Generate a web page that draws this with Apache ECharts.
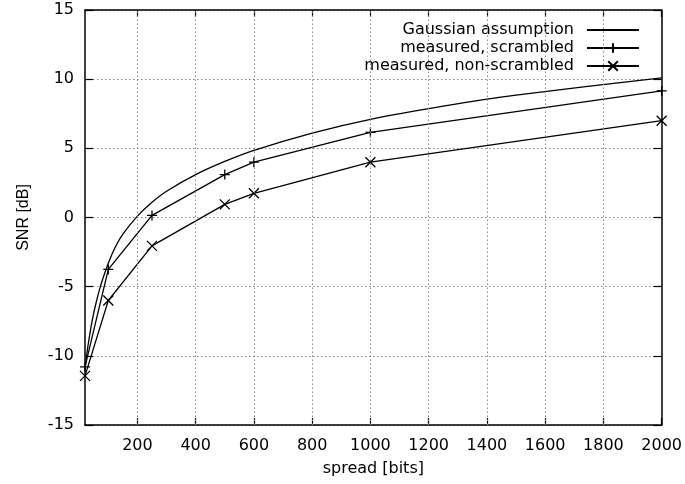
<!DOCTYPE html>
<html>
<head>
<meta charset="utf-8">
<script src="https://cdn.jsdelivr.net/npm/echarts@6/dist/echarts.min.js"></script>
<style>
html,body{margin:0;padding:0;background:#fff;}
#chart{width:685px;height:484px;}
</style>
</head>
<body>
<div id="chart"></div>
<script>
// ---- data ----
const xTicks = [200, 400, 600, 800, 1000, 1200, 1400, 1600, 1800, 2000];
const gaussSpread = [20, 25, 30, 40, 50, 60, 70, 80, 100, 125, 150, 200, 250, 300, 400, 500, 600, 800, 1000, 1250, 1500, 2000];
const gaussSNR    = [-11.0, -10.1, -9.3, -8.0, -6.9, -6.0, -5.2, -4.5, -3.3, -2.1, -1.2, 0.1, 1.1, 1.9, 3.1, 4.05, 4.85, 6.1, 7.1, 8.05, 8.85, 10.1];
const measSpread  = [20, 100, 250, 500, 600, 1000, 2000];
const scrambledSNR    = [-10.8, -3.75, 0.15, 3.1, 4.0, 6.15, 9.15];
const nonScrambledSNR = [-11.45, -6.0, -2.05, 0.95, 1.75, 4.0, 7.0];
const seriesNames = ['Gaussian assumption', 'measured, scrambled', 'measured, non-scrambled'];

const FONT = 'DejaVu Sans';
const pair = (xs, ys) => xs.map((x, i) => [x, ys[i]]);
const plusPath = 'path://M5,0L5,10M0,5L10,5';
const crossPath = 'path://M0,0L10,10M10,0L0,10';

const chart = echarts.init(document.getElementById('chart'), null, {renderer: 'canvas'});
const axisLineStyle = {color: '#000', width: 1.5};
const plain = v => String(v);
chart.setOption({
  animation: false,
  backgroundColor: '#fff',
  grid: {left: 85, right: 21, top: 10, bottom: 59, containLabel: false},
  legend: {
    orient: 'vertical',
    align: 'right',
    right: 45,
    top: 21,
    padding: 0,
    itemGap: 0,
    itemWidth: 52,
    itemHeight: 12,
    data: [
      {name: seriesNames[0], itemStyle: {opacity: 0}},
      {name: seriesNames[1]},
      {name: seriesNames[2]}
    ],
    textStyle: {fontFamily: FONT, fontSize: 16, color: '#000', padding: [0, 8, 0, 0], lineHeight: 18},
    selectedMode: false
  },
  xAxis: [{
    type: 'value', min: 20, max: 2000, position: 'bottom',
    name: 'spread [bits]', nameLocation: 'middle', nameGap: 36,
    nameTextStyle: {fontFamily: FONT, fontSize: 16, color: '#000'},
    axisLine: {show: true, onZero: false, lineStyle: axisLineStyle},
    axisTick: {show: true, inside: true, length: 7, customValues: xTicks, lineStyle: {color: '#000', width: 1.2}},
    axisLabel: {show: true, customValues: xTicks, formatter: plain, margin: 13, fontFamily: FONT, fontSize: 16, color: '#000'},
    splitLine: {show: false}
  }, {
    type: 'value', min: 20, max: 2000, position: 'top',
    axisLine: {show: true, onZero: false, lineStyle: axisLineStyle},
    axisTick: {show: true, inside: true, length: 7, customValues: xTicks, lineStyle: {color: '#000', width: 1.2}},
    axisLabel: {show: false},
    splitLine: {show: false}
  }],
  yAxis: [{
    type: 'value', min: -15, max: 15, interval: 5, position: 'left',
    name: 'SNR [dB]', nameLocation: 'middle', nameGap: 53,
    nameTextStyle: {fontFamily: 'Liberation Sans', fontSize: 16, color: '#000'},
    axisLine: {show: true, onZero: false, lineStyle: axisLineStyle},
    axisTick: {show: true, inside: true, length: 8, lineStyle: {color: '#000', width: 1.2}},
    axisLabel: {show: true, margin: 11, formatter: plain, fontFamily: FONT, fontSize: 16, color: '#000'},
    splitLine: {show: true, lineStyle: {color: '#888', type: [1.5, 2.5], width: 1}}
  }, {
    type: 'value', min: -15, max: 15, interval: 5, position: 'right',
    axisLine: {show: true, onZero: false, lineStyle: axisLineStyle},
    axisTick: {show: true, inside: true, length: 8, lineStyle: {color: '#000', width: 1.2}},
    axisLabel: {show: false},
    splitLine: {show: false}
  }],
  series: [{
    name: seriesNames[0], type: 'line', xAxisIndex: 0, yAxisIndex: 0,
    data: pair(gaussSpread, gaussSNR),
    symbol: 'none', smooth: 0.2,
    lineStyle: {color: '#000', width: 1.3},
    itemStyle: {color: '#000'},
    markLine: {
      silent: true, symbol: ['none', 'none'], label: {show: false},
      lineStyle: {color: '#888', type: [1.5, 2.5], width: 1},
      emphasis: {disabled: true},
      data: xTicks.slice(0, -1).map(v => ({xAxis: v}))
    },
    z: 3
  }, {
    name: seriesNames[1], type: 'line', xAxisIndex: 0, yAxisIndex: 0,
    data: pair(measSpread, scrambledSNR),
    symbol: plusPath, symbolSize: 10, showSymbol: true,
    lineStyle: {color: '#000', width: 1.3},
    itemStyle: {color: '#000', borderColor: '#000', borderWidth: 1.3},
    z: 3
  }, {
    name: seriesNames[2], type: 'line', xAxisIndex: 0, yAxisIndex: 0,
    data: pair(measSpread, nonScrambledSNR),
    symbol: crossPath, symbolSize: 10, showSymbol: true,
    lineStyle: {color: '#000', width: 1.3},
    itemStyle: {color: '#000', borderColor: '#000', borderWidth: 1.3},
    z: 3
  }]
});
</script>
</body>
</html>
